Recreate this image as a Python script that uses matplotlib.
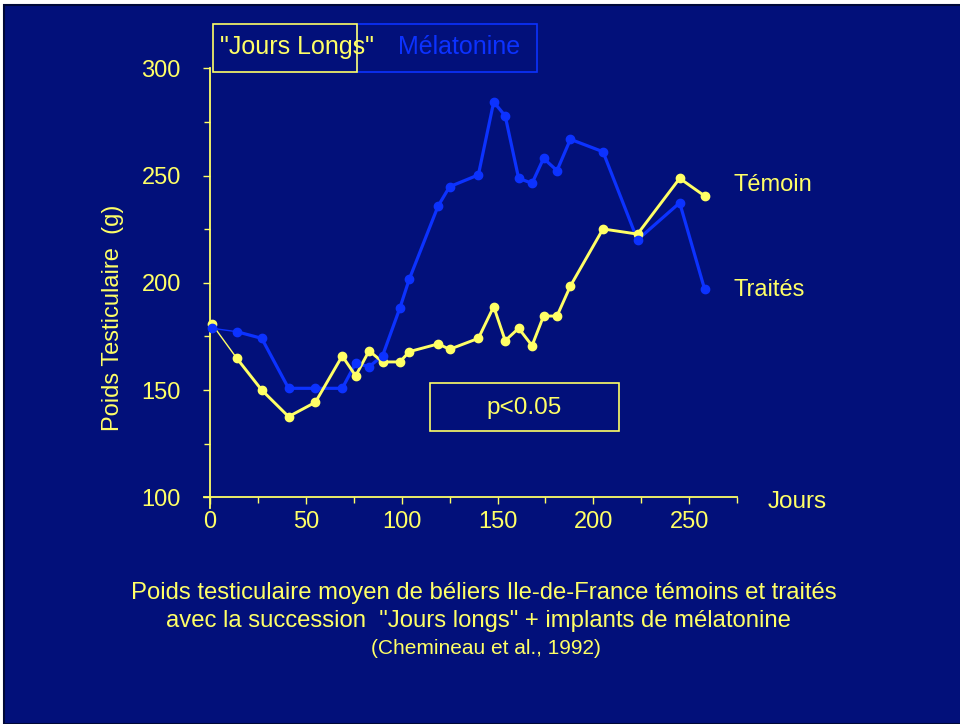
import numpy as np
import matplotlib
matplotlib.use("Agg")
import matplotlib.pyplot as plt
from matplotlib.patches import Rectangle

# DATA
jours = [1, 14, 27, 41, 55, 69, 76, 83, 90, 99, 104, 119, 125, 140, 148,
         154, 161, 168, 174, 181, 188, 205, 223, 245, 258]
temoin = [180.8, 164.8, 150.0, 137.6, 144.3, 165.9, 156.6, 168.3, 163.1, 163.1,
          167.9, 171.5, 169.0, 174.1, 188.9, 173.0, 178.8, 170.7, 184.5, 184.5,
          198.5, 225.1, 222.7, 248.7, 240.5]
traites = [178.8, 177.2, 174.1, 150.8, 150.8, 150.8, 162.5, 160.9, 165.9, 188.1,
           201.8, 235.8, 244.8, 250.3, 284.3, 277.8, 248.7, 246.4, 258.0, 252.3,
           266.9, 261.1, 220.0, 237.3, 197.0]

BG = "#02107A"
YEL = "#FFFF66"
BLU = "#0C32FF"

plt.rcParams["font.family"] = ["Liberation Sans", "DejaVu Sans"]

fig = plt.figure(figsize=(9.6, 7.24), dpi=100, facecolor="white")
# navy slide background
fig.patches.append(Rectangle((4/960, 0), 1, 1 - 5/724, transform=fig.transFigure,
                             facecolor=BG, edgecolor="#000838", lw=1.5, zorder=-10))

ax = fig.add_axes([204.2/960, 1 - 508/724, (737.2 - 204.2)/960, (508 - 68.3)/724])
ax.set_facecolor("none")
ax.set_xlim(-3, 275)
ax.set_ylim(95, 300)

# series: first segment is drawn thin, as on the slide
ax.plot(jours[:2], traites[:2], color=BLU, lw=1.0, zorder=3)
ax.plot(jours[1:], traites[1:], color=BLU, lw=2.3, zorder=3)
ax.plot(jours, traites, "o", color=BLU, ms=6, zorder=4)
ax.plot(jours[:2], temoin[:2], color=YEL, lw=1.0, zorder=3)
ax.plot(jours[1:], temoin[1:], color=YEL, lw=2.1, zorder=3)
ax.plot(jours, temoin, "o", color=YEL, ms=6, zorder=3.5)

# axes styling
for s in ["top", "right"]:
    ax.spines[s].set_visible(False)
ax.spines["left"].set_position(("data", 0))
ax.spines["bottom"].set_position(("data", 100))
ax.spines["left"].set_bounds(95, 300)
ax.spines["bottom"].set_bounds(-3, 275)
for s in ["left", "bottom"]:
    ax.spines[s].set_color(YEL)
    ax.spines[s].set_linewidth(1.3)

ax.set_xticks(np.arange(0, 251, 50))
ax.set_xticks(np.arange(25, 276, 50), minor=True)
ax.set_yticks(np.arange(100, 301, 50))
ax.set_yticks(np.arange(125, 276, 50), minor=True)
ax.tick_params(which="both", colors=YEL, direction="out", width=1.0, labelsize=17)
ax.tick_params(which="major", length=5)
ax.tick_params(which="minor", length=4)
ax.tick_params(axis="y", pad=16)
ax.tick_params(axis="x", pad=5)

# texts (figure pixel positions)
def ftext(x, y, s, **kw):
    fig.text(x/960, 1 - y/724, s, **kw)

ftext(113, 318, "Poids Testiculaire  (g)", color=YEL, fontsize=17, rotation=90,
      ha="center", va="center")
ftext(768, 502, "Jours", color=YEL, fontsize=17.5, ha="left", va="center")
ftext(733, 185, "Témoin", color=YEL, fontsize=17, ha="left", va="center")
ftext(733, 290, "Traités", color=YEL, fontsize=17, ha="left", va="center")

# header boxes
fig.patches.append(Rectangle((357/960, 1 - 72/724), 180/960, 48/724,
                             transform=fig.transFigure, fill=False,
                             edgecolor=BLU, lw=1.2))
fig.patches.append(Rectangle((213/960, 1 - 72/724), 144/960, 48/724,
                             transform=fig.transFigure, fill=False,
                             edgecolor=YEL, lw=1.2))
ftext(220, 47, '"Jours Longs"', color=YEL, fontsize=18, ha="left", va="center")
ftext(398, 47, "Mélatonine", color=BLU, fontsize=18, ha="left", va="center")

# p-value box
fig.patches.append(Rectangle((430/960, 1 - 431/724), 189/960, 48/724,
                             transform=fig.transFigure, fill=False,
                             edgecolor=YEL, lw=1.2))
ftext(524.5, 408, "p<0.05", color=YEL, fontsize=17.5, ha="center", va="center")

# caption
ftext(484, 593, "Poids testiculaire moyen de béliers Ile-de-France témoins et traités",
      color=YEL, fontsize=17.2, ha="center", va="center")
ftext(478, 621, 'avec la succession  "Jours longs" + implants de mélatonine',
      color=YEL, fontsize=17.2, ha="center", va="center")
ftext(486, 648, "(Chemineau et al., 1992)", color=YEL, fontsize=15,
      ha="center", va="center")

fig.savefig("out.png", dpi=100, facecolor=fig.get_facecolor())
